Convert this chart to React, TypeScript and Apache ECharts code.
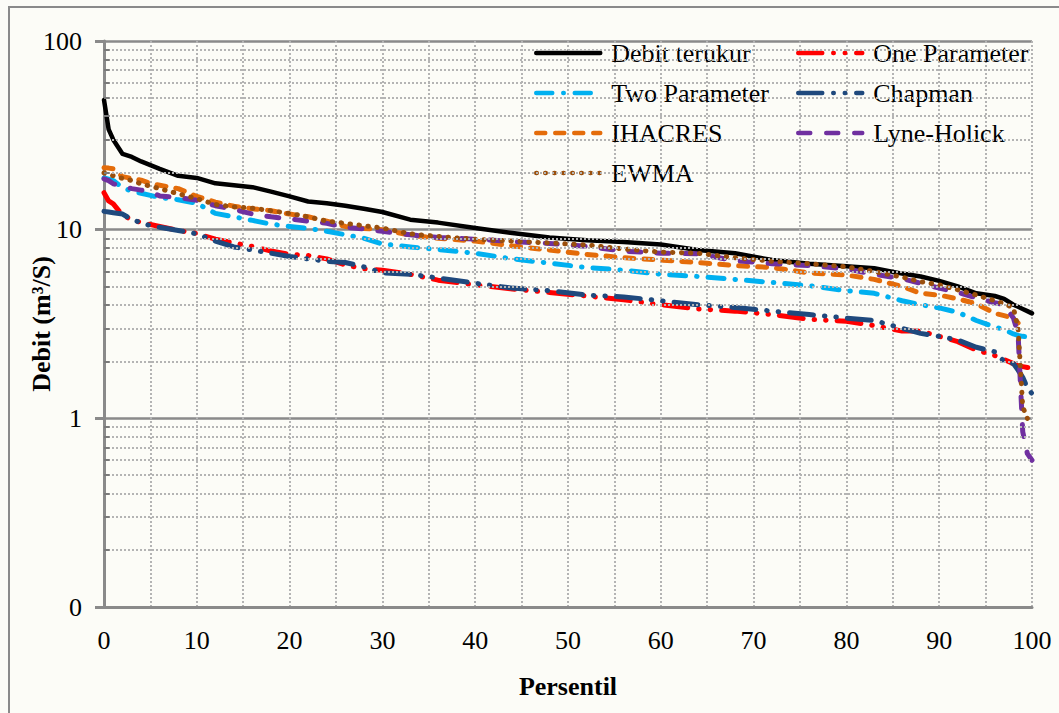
import React, { useEffect, useRef } from "react";
import * as echarts from "echarts";

// Percentile positions (x axis)
const PERCENTIL = [0, 0.5, 1, 2, 3, 4, 5, 6, 8, 10, 12, 14, 16, 18, 20, 22, 24, 26, 28, 30, 33, 36, 40, 44, 48, 52, 56, 60, 64, 68, 72, 76, 80, 83, 86, 88, 90, 92, 94, 96, 97, 98, 98.5, 99, 99.5, 100];

const DEBIT_TERUKUR = [48.7, 34, 30, 25.2, 24.3, 23, 22, 21, 19.3, 18.8, 17.6, 17.2, 16.8, 15.9, 15, 14.1, 13.8, 13.4, 12.9, 12.4, 11.3, 10.9, 10.2, 9.6, 9.1, 8.8, 8.6, 8.35, 7.8, 7.5, 6.9, 6.6, 6.4, 6.25, 5.85, 5.65, 5.35, 5.0, 4.6, 4.45, 4.3, 4.0, 3.9, 3.8, 3.7, 3.6];
const ONE_PARAMETER = [15.7, 14.2, 13.7, 11.9, 11.3, 10.9, 10.65, 10.4, 9.9, 9.55, 8.9, 8.5, 8.15, 7.7, 7.4, 7.3, 7.0, 6.5, 6.2, 6.1, 5.8, 5.4, 5.1, 4.85, 4.65, 4.45, 4.25, 4.0, 3.8, 3.7, 3.55, 3.35, 3.27, 3.1, 2.9, 2.9, 2.72, 2.55, 2.3, 2.15, 2.05, 1.95, 1.9, 1.88, 1.86, 1.85];
const TWO_PARAMETER = [18.8, 18.5, 18.2, 16.7, 16, 15.6, 15.2, 14.8, 14.4, 13.8, 12.2, 11.7, 11.2, 10.7, 10.4, 10.15, 9.8, 9.4, 9.0, 8.4, 8.1, 7.85, 7.5, 7.0, 6.65, 6.3, 6.1, 5.8, 5.65, 5.45, 5.25, 5.05, 4.75, 4.6, 4.2, 4.0, 3.85, 3.65, 3.3, 3.05, 2.95, 2.8, 2.75, 2.72, 2.7, 2.68];
const CHAPMAN = [12.5, 12.4, 12.3, 12.1, 11.3, 10.9, 10.5, 10.3, 9.9, 9.5, 8.7, 8.1, 7.8, 7.5, 7.2, 7.0, 6.8, 6.7, 6.35, 5.9, 5.8, 5.55, 5.2, 4.9, 4.75, 4.5, 4.4, 4.2, 4.0, 3.87, 3.7, 3.55, 3.4, 3.3, 3.0, 2.82, 2.72, 2.6, 2.38, 2.25, 2.0, 1.95, 1.8, 1.65, 1.45, 1.35];
const IHACRES = [21.3, 21.2, 21, 19.1, 18.7, 18.3, 17.6, 17.2, 16.5, 15, 14, 13.3, 12.9, 12.6, 12.1, 11.7, 11.1, 10.4, 10.15, 10.0, 9.35, 9.0, 8.7, 8.2, 7.8, 7.4, 7.1, 6.9, 6.7, 6.45, 6.3, 5.9, 5.75, 5.45, 5.0, 4.6, 4.5, 4.3, 4.05, 3.6, 3.5, 3.4, 3.2, null, null, null];
const LYNE_HOLICK = [18.6, 18.2, 17.5, 17, 16.5, 16.2, 15.8, 15.1, 14.8, 14.3, 13.4, 12.8, 12.1, 11.7, 11.4, 11.1, 10.8, 10.3, 10.1, 9.8, 9.4, 9.1, 8.9, 8.65, 8.45, 8.15, 7.7, 7.5, 7.45, 6.85, 6.6, 6.45, 6.2, 5.8, 5.5, 5.2, 4.9, 4.65, 4.35, 4.1, 4.0, 3.4, 2.8, 0.85, 0.65, 0.6];
const EWMA = [20, 19.7, 19.3, 18.7, 18.2, 17.5, 17, 16.5, 15.5, 14.6, 13.6, 13.2, 13, 12.6, 12.2, 11.7, 11.1, 10.8, 10.5, 10.2, 9.5, 9.2, 8.9, 8.7, 8.5, 8.3, 7.9, 7.6, 7.5, 7.1, 6.8, 6.6, 6.35, 6.0, 5.6, 5.3, 5.1, 4.8, 4.5, 4.2, 4.05, 3.85, 3.0, 1.15, 1.0, null];

const LEFT_LEGEND = ["Debit terukur", "Two Parameter", "IHACRES", "EWMA"];
const RIGHT_LEGEND = ["One Parameter", "Chapman", "Lyne-Holick"];
const MINOR_Y = [0.2, 0.3, 0.4, 0.5, 0.6, 0.7, 0.8, 0.9, 2, 3, 4, 5, 6, 7, 8, 9, 20, 30, 40, 50, 60, 70, 80, 90];

const FONT = "Liberation Serif";

const pairs = (vals: (number | null)[]) =>
  PERCENTIL.map((p, i) => (vals[i] == null ? null : [p, vals[i]])).filter((d) => d !== null);

export default function App() {
  const ref = useRef<HTMLDivElement>(null);
  useEffect(() => {
    if (!ref.current) return;
    const chart = echarts.init(ref.current, null, { renderer: "svg" });

    const mk = (name: string, vals: (number | null)[], color: string, width: number, type: any) => ({
      name,
      type: "line",
      data: pairs(vals),
      showSymbol: false,
      symbol: "none",
      z: 3,
      lineStyle: { color, width, type, cap: "round", join: "round" },
      itemStyle: { color },
    });

    const minorLines = MINOR_Y.map((v) => ({ yAxis: v }));
    const minorTicks = MINOR_Y.map((v) => [
      { coord: [0, v], lineStyle: { color: "#7a7a7a", width: 2, type: "solid" } },
      { coord: [0.6, v] },
    ]);

    const legendBase = {
      orient: "vertical",
      top: 40,
      padding: 0,
      itemWidth: 64,
      itemHeight: 14,
      itemGap: 14,
      itemStyle: { opacity: 0 },
      lineStyle: { width: 4.5, cap: "round" },
      textStyle: { fontFamily: FONT, fontSize: 26, color: "#000", lineHeight: 25, padding: [0, 0, 0, 6] },
    };

    chart.setOption({
      animation: false,
      backgroundColor: "#fcfcf7",
      textStyle: { fontFamily: FONT },
      grid: { left: 104, right: 27, top: 41, bottom: 106, containLabel: false },
      graphic: [
        {
          type: "rect",
          shape: { x: 9, y: 7, width: 1080, height: 730 },
          style: { fill: "none", stroke: "#8a8a8a", lineWidth: 2 },
          z: 0,
          silent: true,
        },
      ],
      legend: [
        { ...legendBase, left: 534, data: LEFT_LEGEND },
        { ...legendBase, left: 796, data: RIGHT_LEGEND },
      ],
      xAxis: {
        type: "value",
        min: 0,
        max: 100,
        interval: 10,
        name: "Persentil",
        nameLocation: "middle",
        nameGap: 66,
        nameMoveOverlap: false,
        nameTextStyle: { fontFamily: FONT, fontSize: 26, fontWeight: "bold", color: "#000" },
        axisLine: { show: true, onZero: false, lineStyle: { color: "#8a8a8a", width: 3 } },
        axisTick: { show: false },
        axisLabel: { fontFamily: FONT, fontSize: 26, color: "#000", margin: 20 },
        splitLine: { show: true, lineStyle: { color: "#b4b4b4", width: 2, type: [2, 2] } },
        minorTick: { show: false, splitNumber: 2 },
        minorSplitLine: { show: true, lineStyle: { color: "#b4b4b4", width: 2, type: [2, 2] } },
      },
      yAxis: {
        type: "log",
        logBase: 10,
        min: 0.1,
        max: 100,
        name: "Debit (m³/S)",
        nameLocation: "middle",
        nameGap: 50,
        nameMoveOverlap: false,
        nameRotate: 90,
        nameTextStyle: { fontFamily: FONT, fontSize: 26, fontWeight: "bold", color: "#000" },
        axisLine: { show: true, lineStyle: { color: "#8a8a8a", width: 3 } },
        axisTick: { show: true, length: 9, lineStyle: { color: "#8a8a8a", width: 3 } },
        axisLabel: {
          fontFamily: FONT,
          fontSize: 26,
          color: "#000",
          margin: 22,
          formatter: (v: number) => (v < 1 ? "0" : String(Math.round(v))),
        },
        splitLine: { show: true, lineStyle: { color: "#8a8a8a", width: 2.5, type: "solid" } },
      },
      series: [
        {
          type: "line",
          data: [[0, 0.1]],
          showSymbol: false,
          symbol: "none",
          lineStyle: { width: 0 },
          z: 1,
          silent: true,
          markLine: {
            silent: true,
            symbol: ["none", "none"],
            label: { show: false },
            animation: false,
            lineStyle: { color: "#b4b4b4", width: 2, type: [2, 2] },
            data: [...minorLines, ...minorTicks],
          },
        },
        mk("Debit terukur", DEBIT_TERUKUR, "#000000", 4.5, "solid"),
        mk("One Parameter", ONE_PARAMETER, "#ff0000", 5, [24, 11, 0.5, 11, 0.5, 11]),
        mk("Two Parameter", TWO_PARAMETER, "#00b0f0", 5, [16, 11, 0.5, 11]),
        mk("Chapman", CHAPMAN, "#1f497d", 5, [24, 11, 0.5, 11, 0.5, 11]),
        mk("IHACRES", IHACRES, "#e46c0a", 5, [9, 10]),
        mk("Lyne-Holick", LYNE_HOLICK, "#7030a0", 5, [12, 16]),
        mk("EWMA", EWMA, "#9a4f0c", 5, [0.5, 8.5]),
      ],
    });
    return () => chart.dispose();
  }, []);
  return (
    <div
      ref={ref}
      style={{ position: "fixed", left: 0, top: 0, width: 1059, height: 713 }}
    />
  );
}
